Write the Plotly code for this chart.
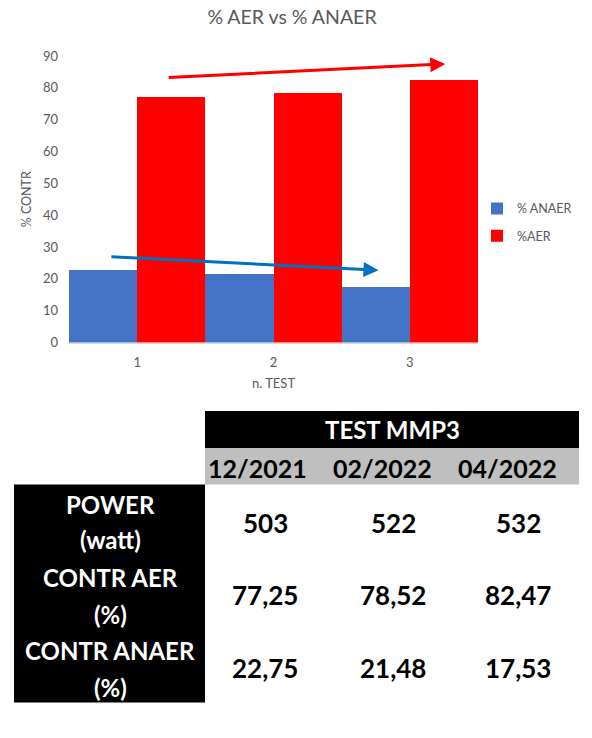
import plotly.graph_objects as go

# ---------------- data ----------------
categories = ["1", "2", "3"]
anaer_pct = [22.75, 21.48, 17.53]
aer_pct = [77.25, 78.52, 82.47]
y_tick_vals = [0, 10, 20, 30, 40, 50, 60, 70, 80, 90]

table_title = "TEST MMP3"
test_dates = ["12/2021", "02/2022", "04/2022"]
row_labels = [["POWER", "(watt)"], ["CONTR AER", "(%)"], ["CONTR ANAER", "(%)"]]
power_watt = ["503", "522", "532"]
contr_aer = ["77,25", "78,52", "82,47"]
contr_anaer = ["22,75", "21,48", "17,53"]
table_rows = [power_watt, contr_aer, contr_anaer]

# trend arrows (tail -> head, in data coordinates)
red_trend = dict(tail=(0.22, 83.2), head=(2.26, 87.5))
blue_trend = dict(tail=(-0.20, 27.0), head=(1.77, 22.7))

# ---------------- layout helpers ----------------
W, H = 592, 738
FONT = "Lato, 'Liberation Sans', Arial, sans-serif"
GRAY = "#595959"


def px(x):
    return x / W


def py(y):
    return 1 - y / H


fig = go.Figure()
fig.add_trace(go.Bar(x=categories, y=anaer_pct, name="% ANAER",
                     marker=dict(color="#4472C4", line=dict(width=0)),
                     legendgroup="a"))
fig.add_trace(go.Bar(x=categories, y=aer_pct, name="%AER",
                     marker=dict(color="#FF0000", line=dict(width=0)),
                     legendgroup="b"))

annotations = []
for tr, col in ((red_trend, "#FF0000"), (blue_trend, "#0070C0")):
    annotations.append(dict(
        x=tr["head"][0], y=tr["head"][1], ax=tr["tail"][0], ay=tr["tail"][1],
        xref="x", yref="y", axref="x", ayref="y", text="", showarrow=True,
        arrowhead=2, arrowsize=1, arrowwidth=3, arrowcolor=col, standoff=0,
    ))

shapes = [
    dict(type="rect", xref="paper", yref="paper", x0=px(205), x1=px(579),
         y0=py(450), y1=py(412), fillcolor="#000000", line=dict(width=0)),
    dict(type="rect", xref="paper", yref="paper", x0=px(205), x1=px(579),
         y0=py(487), y1=py(450), fillcolor="#BFBFBF", line=dict(width=0)),
    dict(type="rect", xref="paper", yref="paper", x0=px(14), x1=px(205),
         y0=py(710), y1=py(487), fillcolor="#000000", line=dict(width=0)),
]


def txt(s, x, y, size, color):
    return dict(text="<b>%s</b>" % s, x=px(x), y=py(y), xref="paper", yref="paper",
                xanchor="center", yanchor="middle", showarrow=False,
                font=dict(family=FONT, size=size, color=color))


annotations.append(txt(table_title, 392, 431, 24, "#FFFFFF"))
date_x = [257, 382, 507]
for d, x in zip(test_dates, date_x):
    annotations.append(txt(d, x, 470, 25, "#000000"))

label_y = [(507, 543), (582, 620), (657, 695)]
for lab, (y1, y2) in zip(row_labels, label_y):
    annotations.append(txt(lab[0], 110, y1, 24, "#FFFFFF"))
    annotations.append(txt(lab[1], 110, y2, 24, "#FFFFFF"))

col_x = [265, 393, 518]
row_y = [526, 600, 675]
for vals, y in zip(table_rows, row_y):
    for v, x in zip(vals, col_x):
        annotations.append(txt(v, x, y, 26, "#000000"))

fig.update_layout(
    width=W, height=H,
    margin=dict(l=0, r=0, t=0, b=0),
    paper_bgcolor="white", plot_bgcolor="white",
    barmode="group", bargap=0, bargroupgap=0,
    font=dict(family=FONT, color=GRAY, size=12),
    title=dict(text="% AER vs % ANAER", x=px(292), xanchor="center",
               y=py(17), yanchor="middle",
               font=dict(family=FONT, size=19.5, color=GRAY)),
    xaxis=dict(domain=[px(69), px(478)], type="category", range=[-0.5, 2.5],
               showline=True, linecolor="#D9D9D9", linewidth=1, ticks="",
               showgrid=False, zeroline=False, ticklabelstandoff=8,
               tickfont=dict(size=13, color=GRAY),
               title=dict(text="n. TEST", standoff=9,
                          font=dict(size=13, color=GRAY))),
    yaxis=dict(domain=[py(342), py(49)], range=[0, 90], tickvals=y_tick_vals,
               showline=False, showgrid=False, zeroline=False, ticks="",
               ticklabelstandoff=10, tickfont=dict(size=13, color=GRAY),
               title=dict(text="% CONTR", standoff=8,
                          font=dict(size=12.5, color=GRAY))),
    legend=dict(x=px(477), y=py(190), xanchor="left", yanchor="top",
                traceorder="grouped", tracegroupgap=8,
                font=dict(size=12.5, color=GRAY), bgcolor="rgba(0,0,0,0)"),
    shapes=shapes,
    annotations=annotations,
)

fig.write_html("out.html", config=dict(displayModeBar=False))
